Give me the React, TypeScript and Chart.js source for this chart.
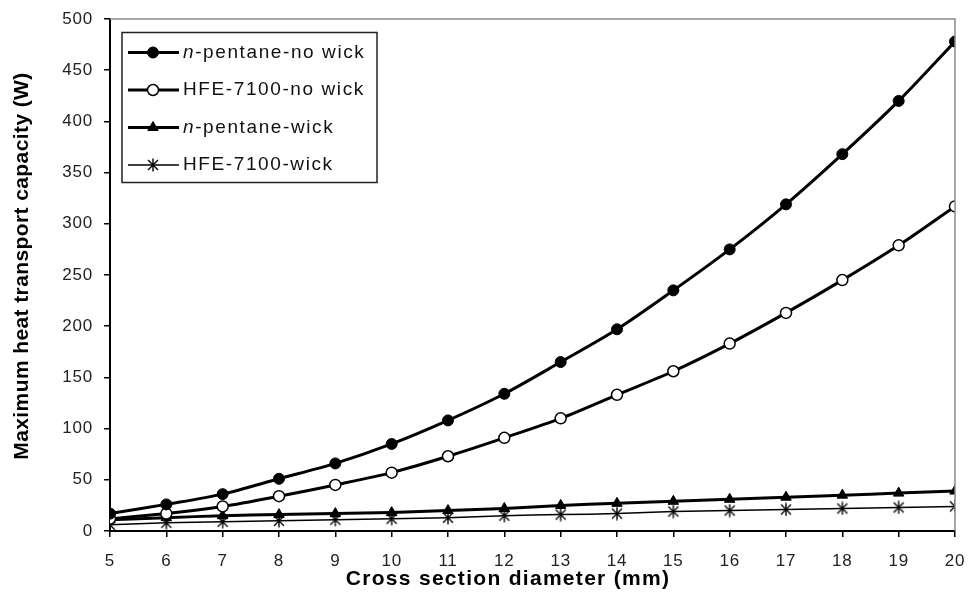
import React, { useEffect, useRef } from "react";
import { Chart, registerables } from "chart.js";
import { drawPoint } from "chart.js/helpers";

Chart.register(...registerables);

const diameters = [5, 6, 7, 8, 9, 10, 11, 12, 13, 14, 15, 16, 17, 18, 19, 20];
const pentaneNoWick = [17, 26, 36, 51, 66, 85, 108, 134, 165, 197, 235, 275, 319, 368, 420, 478];
const hfeNoWick = [12, 17, 24, 34, 45, 57, 73, 91, 110, 133, 156, 183, 213, 245, 279, 317];
const pentaneWick = [11, 13, 15, 16, 17, 18, 20, 22, 25, 27, 29, 31, 33, 35, 37, 39];
const hfeWick = [6, 8, 9, 10, 11, 12, 13, 15, 16, 17, 19, 20, 21, 22, 23, 24];
const seriesLabels = ["n-pentane-no wick", "HFE-7100-no wick", "n-pentane-wick", "HFE-7100-wick"];
const yTicks = [0, 50, 100, 150, 200, 250, 300, 350, 400, 450, 500];
const xTitle = "Cross section diameter (mm)";
const yTitle = "Maximum heat transport capacity (W)";

function makeAsterisk(): HTMLCanvasElement {
  const c = document.createElement("canvas");
  c.width = 14;
  c.height = 14;
  const g = c.getContext("2d")!;
  g.strokeStyle = "#000";
  g.lineWidth = 1.4;
  g.beginPath();
  g.moveTo(2, 2);
  g.lineTo(12, 12);
  g.moveTo(12, 2);
  g.lineTo(2, 12);
  g.moveTo(7, 0.5);
  g.lineTo(7, 13.5);
  g.stroke();
  return c;
}

const FONT = "'Liberation Sans', Arial, sans-serif";

const spacing = {
  id: "spacing",
  beforeUpdate(chart: any) {
    (chart.ctx as any).letterSpacing = "0.8px";
  },
  beforeDraw(chart: any) {
    (chart.ctx as any).letterSpacing = "0.8px";
  },
};

const frameAndLegend = {
  id: "frameAndLegend",
  afterDatasetsDraw(chart: any) {
    const { ctx, chartArea } = chart;
    ctx.save();
    ctx.strokeStyle = "#8a8a8a";
    ctx.lineWidth = 1.5;
    ctx.beginPath();
    ctx.moveTo(chartArea.left, chartArea.top);
    ctx.lineTo(chartArea.right, chartArea.top);
    ctx.lineTo(chartArea.right, chartArea.bottom);
    ctx.stroke();

    const bx = chartArea.left + 12;
    const by = chartArea.top + 13.5;
    const bw = 255;
    const bh = 150;
    ctx.fillStyle = "#fff";
    ctx.fillRect(bx, by, bw, bh);
    ctx.strokeStyle = "#222";
    ctx.lineWidth = 1.5;
    ctx.strokeRect(bx, by, bw, bh);
    (ctx as any).letterSpacing = "1.6px";
    chart.data.datasets.forEach((ds: any, i: number) => {
      const y = by + 20 + i * 37.5;
      ctx.strokeStyle = "#000";
      ctx.lineWidth = ds.borderWidth;
      ctx.beginPath();
      ctx.moveTo(bx + 6, y);
      ctx.lineTo(bx + 57, y);
      ctx.stroke();
      ctx.fillStyle = ds.pointBackgroundColor;
      ctx.strokeStyle = ds.pointBorderColor;
      ctx.lineWidth = ds.pointBorderWidth;
      drawPoint(ctx, { pointStyle: ds.pointStyle, radius: ds.pointRadius, rotation: 0, borderWidth: ds.pointBorderWidth }, bx + 31, y);
      ctx.fillStyle = "#111";
      ctx.textBaseline = "middle";
      ctx.textAlign = "left";
      let tx = bx + 61;
      const label: string = ds.label;
      if (label.startsWith("n-")) {
        ctx.font = `italic 19px ${FONT}`;
        ctx.fillText("n", tx, y);
        tx += ctx.measureText("n").width;
        ctx.font = `19px ${FONT}`;
        ctx.fillText(label.slice(1), tx, y);
      } else {
        ctx.font = `19px ${FONT}`;
        ctx.fillText(label, tx, y);
      }
    });

    ctx.fillStyle = "#000";
    ctx.textAlign = "center";
    ctx.textBaseline = "middle";
    ctx.font = `bold 21px ${FONT}`;
    (ctx as any).letterSpacing = "1.3px";
    ctx.fillText(xTitle, 508, 579);
    (ctx as any).letterSpacing = "0.4px";
    ctx.translate(22, 266);
    ctx.rotate(-Math.PI / 2);
    ctx.fillText(yTitle, 0, 0);
    ctx.restore();
  },
};

export default function App() {
  const ref = useRef<HTMLCanvasElement>(null);
  useEffect(() => {
    const asterisk = makeAsterisk();
    const pts = (vals: number[]) => diameters.map((d, i) => ({ x: d, y: vals[i] }));
    const chart = new Chart(ref.current!, {
      type: "line",
      data: {
        datasets: [
          {
            label: seriesLabels[0],
            data: pts(pentaneNoWick),
            borderColor: "#000",
            borderWidth: 3,
            pointStyle: "circle",
            pointRadius: 5.5,
            pointBackgroundColor: "#000",
            pointBorderColor: "#000",
            pointBorderWidth: 1,
            tension: 0.3,
          },
          {
            label: seriesLabels[1],
            data: pts(hfeNoWick),
            borderColor: "#000",
            borderWidth: 3,
            pointStyle: "circle",
            pointRadius: 5.5,
            pointBackgroundColor: "#fff",
            pointBorderColor: "#000",
            pointBorderWidth: 1.5,
            tension: 0.3,
          },
          {
            label: seriesLabels[2],
            data: pts(pentaneWick),
            borderColor: "#000",
            borderWidth: 3,
            pointStyle: "triangle",
            pointRadius: 6,
            pointBackgroundColor: "#000",
            pointBorderColor: "#000",
            pointBorderWidth: 1,
            tension: 0.2,
          },
          {
            label: seriesLabels[3],
            data: pts(hfeWick),
            borderColor: "#000",
            borderWidth: 1.5,
            pointStyle: asterisk as any,
            pointRadius: 6,
            pointBackgroundColor: "#000",
            pointBorderColor: "#000",
            pointBorderWidth: 1,
            tension: 0.2,
          },
        ] as any,
      },
      options: {
        animation: false,
        responsive: false,
        maintainAspectRatio: false,
        layout: { padding: { top: 19, right: 13, left: 0, bottom: 0 } },
        plugins: { legend: { display: false }, tooltip: { enabled: false } },
        elements: { point: { hoverRadius: 6 } },
        scales: {
          x: {
            type: "linear",
            min: 5,
            max: 20,
            afterFit: (s: any) => {
              s.height = 67;
              s.paddingLeft = 0;
              s.paddingRight = 0;
            },
            ticks: {
              stepSize: 1,
              font: { family: FONT, size: 17 },
              color: "#222",
              padding: 14,
              maxRotation: 0,
            },
            grid: { drawOnChartArea: false, drawTicks: true, tickLength: 6, color: "#000", lineWidth: 1.5 },
            border: { display: true, color: "#000", width: 2 },
            title: { display: false },
          },
          y: {
            min: 0,
            max: 500,
            afterFit: (s: any) => {
              s.width = 110;
              s.paddingTop = 0;
              s.paddingBottom = 0;
            },
            afterBuildTicks: (s: any) => {
              s.ticks = yTicks.map((v) => ({ value: v }));
            },
            ticks: {
              font: { family: FONT, size: 17 },
              color: "#222",
              padding: 11,
            },
            grid: { drawOnChartArea: false, drawTicks: true, tickLength: 6, color: "#000", lineWidth: 1.5 },
            border: { display: true, color: "#000", width: 2 },
            title: { display: false },
          },
        },
      } as any,
      plugins: [spacing, frameAndLegend],
    });
    return () => chart.destroy();
  }, []);
  return (
    <div style={{ position: "absolute", left: 0, top: 0, width: 968, height: 598, background: "#fff" }}>
      <canvas ref={ref} width={968} height={598} style={{ width: 968, height: 598 }} />
    </div>
  );
}
